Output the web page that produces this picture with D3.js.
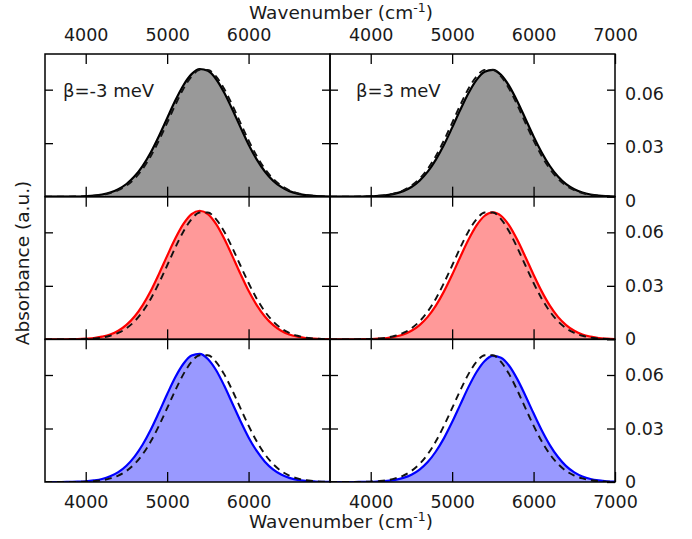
<!DOCTYPE html>
<html>
<head>
<meta charset="utf-8">
<script src="https://cdn.jsdelivr.net/npm/d3@7"></script>
<style>
  body { margin: 0; background: #fff; }
  svg { display: block; }
  text { font-family: "DejaVu Sans", sans-serif; fill: #1a1a1a; }
</style>
</head>
<body>
<svg id="chart" width="692" height="539"></svg>
<script>
// Wavenumber grid (cm^-1) shared by all spectra
const wavenumber = [3500, 3600, 3700, 3800, 3900, 4000, 4100, 4200, 4300, 4400, 4500, 4600,
                    4700, 4800, 4900, 5000, 5100, 5200, 5300, 5400, 5500, 5600, 5700, 5800,
                    5900, 6000, 6100, 6200, 6300, 6400, 6500, 6600, 6700, 6800, 6900, 7000];

// Reference spectrum (dashed, repeated in every panel)
const reference = [0, 0, 0, 0, 0.0001, 0.0002, 0.0005, 0.0010, 0.0020, 0.0036, 0.0062, 0.0101,
                   0.0156, 0.0228, 0.0316, 0.0414, 0.0514, 0.0605, 0.0674, 0.0711, 0.0711, 0.0674,
                   0.0605, 0.0514, 0.0414, 0.0316, 0.0228, 0.0156, 0.0101, 0.0062, 0.0036, 0.0020,
                   0.0010, 0.0005, 0.0002, 0.0001];

// Computed spectra, beta = -3 meV (left column)
const grayMinus = [0, 0, 0, 0.0001, 0.0001, 0.0003, 0.0006, 0.0012, 0.0023, 0.0042, 0.0071, 0.0114,
                   0.0173, 0.0249, 0.0340, 0.0440, 0.0539, 0.0625, 0.0687, 0.0716, 0.0706, 0.0660,
                   0.0584, 0.0490, 0.0390, 0.0293, 0.0209, 0.0141, 0.0090, 0.0055, 0.0031, 0.0017,
                   0.0009, 0.0004, 0.0002, 0.0001];
const redMinus = [0, 0, 0, 0.0001, 0.0002, 0.0004, 0.0007, 0.0015, 0.0027, 0.0048, 0.0081, 0.0128,
                  0.0192, 0.0272, 0.0367, 0.0468, 0.0565, 0.0647, 0.0702, 0.0721, 0.0702, 0.0647,
                  0.0565, 0.0468, 0.0367, 0.0272, 0.0192, 0.0128, 0.0081, 0.0048, 0.0027, 0.0015,
                  0.0007, 0.0004, 0.0002, 0.0001];
const blueMinus = [0, 0, 0, 0.0001, 0.0002, 0.0004, 0.0009, 0.0017, 0.0032, 0.0055, 0.0091, 0.0142,
                   0.0210, 0.0294, 0.0391, 0.0492, 0.0587, 0.0663, 0.0709, 0.0719, 0.0690, 0.0628,
                   0.0541, 0.0442, 0.0342, 0.0250, 0.0174, 0.0114, 0.0071, 0.0042, 0.0023, 0.0012,
                   0.0006, 0.0003, 0.0001, 0.0001];

// Computed spectra, beta = +3 meV (right column)
const grayPlus = [0, 0, 0, 0, 0.0001, 0.0002, 0.0004, 0.0009, 0.0017, 0.0031, 0.0054, 0.0090,
                  0.0140, 0.0208, 0.0291, 0.0387, 0.0487, 0.0580, 0.0655, 0.0701, 0.0711, 0.0683,
                  0.0621, 0.0535, 0.0437, 0.0338, 0.0248, 0.0172, 0.0113, 0.0070, 0.0042, 0.0023,
                  0.0012, 0.0006, 0.0003, 0.0001];
const redPlus = [0, 0, 0, 0, 0.0001, 0.0002, 0.0004, 0.0007, 0.0015, 0.0027, 0.0048, 0.0080,
                 0.0126, 0.0189, 0.0269, 0.0362, 0.0462, 0.0558, 0.0639, 0.0693, 0.0712, 0.0693,
                 0.0639, 0.0558, 0.0462, 0.0362, 0.0269, 0.0189, 0.0126, 0.0080, 0.0048, 0.0027,
                 0.0015, 0.0007, 0.0004, 0.0002];
const bluePlus = [0, 0, 0, 0, 0.0001, 0.0001, 0.0003, 0.0006, 0.0012, 0.0023, 0.0041, 0.0070,
                  0.0112, 0.0171, 0.0246, 0.0336, 0.0434, 0.0532, 0.0617, 0.0679, 0.0707, 0.0697,
                  0.0652, 0.0577, 0.0484, 0.0385, 0.0290, 0.0207, 0.0140, 0.0089, 0.0054, 0.0031,
                  0.0017, 0.0009, 0.0004, 0.0002];

const columnLabels = ["β=-3 meV", "β=3 meV"];
const xTickValues = [4000, 5000, 6000, 7000];
const xTickLabelsLeft = [4000, 5000, 6000];
const xTickLabelsRight = [4000, 5000, 6000, 7000];
const yTickValues = [0, 0.03, 0.06];

// Panel grid: rows x columns
const panels = [
  [grayMinus, grayPlus],
  [redMinus, redPlus],
  [blueMinus, bluePlus]
];
const rowStyles = [
  { fill: "#999999", stroke: "#000000" },
  { fill: "#ff9999", stroke: "#ff0000" },
  { fill: "#9999ff", stroke: "#0000ff" }
];

// Layout
const plotLeft = 45, plotTop = 54, colW = 285, rowH = 428 / 3;
const tickFont = "17.5px";
const titleFont = "18.5px";

const svg = d3.select("#chart");
const x = d3.scaleLinear().domain([3500, 7000]).range([0, colW]);
const y = d3.scaleLinear().domain([0, 0.08]).range([rowH, 0]);

const toPoints = vals => vals.map((v, i) => ({ x: wavenumber[i], y: v }));
const area = d3.area().x(d => x(d.x)).y0(y(0)).y1(d => y(d.y)).curve(d3.curveMonotoneX);
const line = d3.line().x(d => x(d.x)).y(d => y(d.y)).curve(d3.curveMonotoneX);

svg.append("defs").append("clipPath").attr("id", "panel-clip")
  .append("rect").attr("width", colW).attr("height", rowH);

function styleAxis(g) {
  g.select(".domain").remove();
  g.selectAll(".tick line").attr("stroke", "#000").attr("stroke-width", 1.3);
  g.selectAll("text").attr("font-size", tickFont).attr("font-family", "DejaVu Sans, sans-serif").attr("fill", "#1a1a1a");
}

panels.forEach((row, r) => {
  row.forEach((series, c) => {
    const g = svg.append("g")
      .attr("transform", `translate(${plotLeft + c * colW},${plotTop + r * rowH})`);

    const body = g.append("g").attr("clip-path", "url(#panel-clip)");
    body.append("path").datum(toPoints(series))
      .attr("d", area).attr("fill", rowStyles[r].fill);
    body.append("path").datum(toPoints(series))
      .attr("d", line).attr("fill", "none")
      .attr("stroke", rowStyles[r].stroke).attr("stroke-width", 2.2);
    body.append("path").datum(toPoints(reference))
      .attr("d", line).attr("fill", "none")
      .attr("stroke", "#111").attr("stroke-width", 1.9)
      .attr("stroke-dasharray", "7,5");

    // inward ticks on all four sides
    const innerTicks = xTickValues.filter(v => v < 7000);
    const xLabels = c === 0 ? xTickLabelsLeft : xTickLabelsRight;
    const fmtX = v => (xLabels.includes(v) ? String(v) : "");

    if (r === 0) {
      g.append("g").call(d3.axisTop(x).tickValues(xLabels).tickSizeInner(-10).tickSizeOuter(0)
        .tickPadding(13).tickFormat(fmtX)).call(styleAxis);
    } else {
      g.append("g").call(d3.axisTop(x).tickValues(innerTicks).tickSizeInner(-10).tickSizeOuter(0)
        .tickFormat("")).call(styleAxis);
    }
    if (r === panels.length - 1) {
      g.append("g").attr("transform", `translate(0,${rowH})`)
        .call(d3.axisBottom(x).tickValues(xLabels).tickSizeInner(-10).tickSizeOuter(0)
          .tickPadding(14).tickFormat(fmtX)).call(styleAxis);
    } else {
      g.append("g").attr("transform", `translate(0,${rowH})`)
        .call(d3.axisBottom(x).tickValues(innerTicks).tickSizeInner(-10).tickSizeOuter(0)
          .tickFormat("")).call(styleAxis);
    }
    const yInner = yTickValues.filter(v => v > 0);
    g.append("g").call(d3.axisLeft(y).tickValues(yInner).tickSizeInner(-8).tickSizeOuter(0)
      .tickFormat("")).call(styleAxis);
    if (c === 1) {
      const shift = r === 0 ? 4 : 0;
      g.append("g").attr("transform", `translate(${colW},0)`)
        .call(d3.axisRight(y).tickValues(yTickValues).tickSizeInner(-8).tickSizeOuter(0)
          .tickPadding(10).tickFormat(d => (d === 0 ? "0" : d3.format(".2f")(d))))
        .call(styleAxis)
        .call(a => a.selectAll("text").attr("y", shift));
    } else {
      g.append("g").attr("transform", `translate(${colW},0)`)
        .call(d3.axisRight(y).tickValues(yInner).tickSizeInner(-8).tickSizeOuter(0).tickFormat(""))
        .call(styleAxis);
    }

    g.append("rect").attr("width", colW).attr("height", rowH)
      .attr("fill", "none").attr("stroke", "#000").attr("stroke-width", 1.5);

    if (r === 0) {
      g.append("text").attr("x", c === 0 ? 18 : 26).attr("y", 43)
        .attr("font-size", "18px").text(columnLabels[c]);
    }
  });
});

// Axis titles
function wavenumberTitle(yPos) {
  const t = svg.append("text").attr("x", plotLeft + colW + 11).attr("y", yPos)
    .attr("text-anchor", "middle").attr("font-size", titleFont);
  t.append("tspan").text("Wavenumber (cm");
  t.append("tspan").attr("dy", -7).attr("font-size", "12.5px").text("-1");
  t.append("tspan").attr("dy", 7).text(")");
}
wavenumberTitle(19);
wavenumberTitle(528);

svg.append("text")
  .attr("transform", `translate(29,${plotTop + 1.5 * rowH - 5}) rotate(-90)`)
  .attr("text-anchor", "middle").attr("font-size", titleFont)
  .text("Absorbance (a.u.)");
</script>
</body>
</html>
